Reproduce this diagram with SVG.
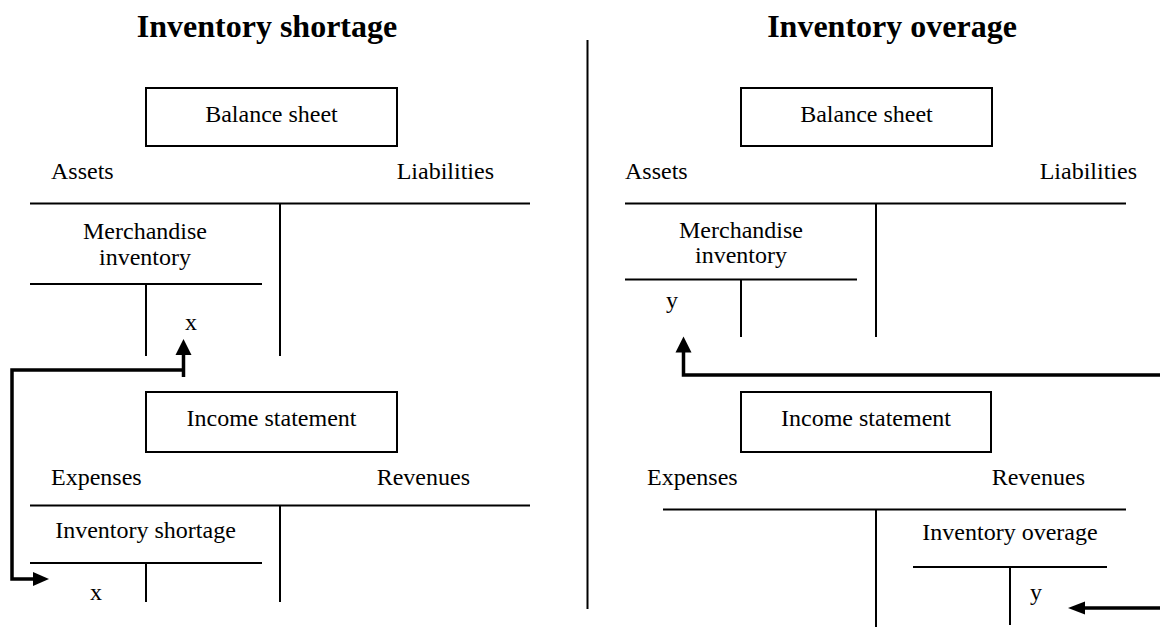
<svg xmlns="http://www.w3.org/2000/svg" width="1160" height="628" viewBox="0 0 1160 628">
  <style>
    .title { font-family: "Liberation Serif", "Times New Roman", serif; font-size: 32px; font-weight: bold; fill: #000; }
    .lbl { font-family: "Liberation Serif", "Times New Roman", serif; font-size: 24px; fill: #000; }
    .mid { text-anchor: middle; }
    .end { text-anchor: end; }
    .rule { stroke: #000; stroke-width: 2; fill: none; }
    .box { stroke: #000; stroke-width: 2; fill: #fff; }
    .flow { stroke: #000; stroke-width: 3.5; fill: none; stroke-linejoin: miter; }
    .tip { fill: #000; stroke: none; }
  </style>
  <rect width="1160" height="628" fill="#fff"/>

  <!-- panel divider -->
  <line class="rule" x1="587.5" y1="40" x2="587.5" y2="609"/>

  <!-- ===== Left panel: shortage ===== -->
  <text class="title mid" x="267" y="37">Inventory shortage</text>

  <g id="bs-left">
    <rect class="box" x="146" y="88" width="251" height="58"/>
    <text class="lbl mid" x="271.5" y="122">Balance sheet</text>
  </g>
  <g id="bs-left-accounts">
    <text class="lbl" x="51" y="179">Assets</text>
    <text class="lbl end" x="494" y="179">Liabilities</text>
    <line class="rule" x1="30" y1="203.5" x2="530" y2="203.5"/>
    <line class="rule" x1="280" y1="203.5" x2="280" y2="356"/>
  </g>
  <g id="inv-left">
    <text class="lbl mid" x="145" y="239">Merchandise</text>
    <text class="lbl mid" x="145" y="265">inventory</text>
    <line class="rule" x1="30" y1="284" x2="262" y2="284"/>
    <line class="rule" x1="146" y1="284" x2="146" y2="356"/>
    <text class="lbl mid" x="191" y="330">x</text>
  </g>

  <g id="is-left">
    <rect class="box" x="146" y="392" width="251" height="60"/>
    <text class="lbl mid" x="271.5" y="426">Income statement</text>
  </g>
  <g id="is-left-accounts">
    <text class="lbl" x="51" y="485">Expenses</text>
    <text class="lbl end" x="470" y="485">Revenues</text>
    <line class="rule" x1="30" y1="505.5" x2="530" y2="505.5"/>
    <line class="rule" x1="280" y1="505.5" x2="280" y2="602"/>
  </g>
  <g id="short-left">
    <text class="lbl mid" x="145.5" y="538">Inventory shortage</text>
    <line class="rule" x1="30" y1="563" x2="262" y2="563"/>
    <line class="rule" x1="146" y1="563" x2="146" y2="602"/>
    <text class="lbl mid" x="96" y="600">x</text>
  </g>

  <!-- ===== Right panel: overage ===== -->
  <text class="title mid" x="892" y="37">Inventory overage</text>

  <g id="bs-right">
    <rect class="box" x="741" y="88" width="251" height="58"/>
    <text class="lbl mid" x="866.5" y="122">Balance sheet</text>
  </g>
  <g id="bs-right-accounts">
    <text class="lbl" x="625" y="179">Assets</text>
    <text class="lbl end" x="1137" y="179">Liabilities</text>
    <line class="rule" x1="625" y1="203.5" x2="1126" y2="203.5"/>
    <line class="rule" x1="876" y1="203.5" x2="876" y2="337"/>
  </g>
  <g id="inv-right">
    <text class="lbl mid" x="741" y="238">Merchandise</text>
    <text class="lbl mid" x="741" y="263">inventory</text>
    <line class="rule" x1="625" y1="279.5" x2="857" y2="279.5"/>
    <line class="rule" x1="741" y1="279.5" x2="741" y2="337"/>
    <text class="lbl mid" x="672" y="308">y</text>
  </g>

  <g id="is-right">
    <rect class="box" x="741" y="392" width="250" height="60"/>
    <text class="lbl mid" x="866" y="426">Income statement</text>
  </g>
  <g id="is-right-accounts">
    <text class="lbl" x="647" y="485">Expenses</text>
    <text class="lbl end" x="1085" y="485">Revenues</text>
    <line class="rule" x1="663" y1="509.5" x2="1126" y2="509.5"/>
    <line class="rule" x1="876" y1="509.5" x2="876" y2="627"/>
  </g>
  <g id="over-right">
    <text class="lbl mid" x="1010" y="540">Inventory overage</text>
    <line class="rule" x1="913" y1="567" x2="1107" y2="567"/>
    <line class="rule" x1="1010" y1="567" x2="1010" y2="625"/>
    <text class="lbl mid" x="1036" y="600">y</text>
  </g>

  <!-- connectors -->
  <g id="connectors">
    <!-- shortage: merchandise inventory credit to inventory shortage debit -->
    <path class="flow" d="M183.5,377 V354"/>
    <polygon class="tip" points="183.5,339 191.5,355 175.5,355"/>
    <path class="flow" d="M183.5,370 H12 V579 H34"/>
    <polygon class="tip" points="49,579 33,572 33,586"/>
    <!-- overage: inventory overage credit to merchandise inventory debit -->
    <path class="flow" d="M1160,375 H683.5 V351"/>
    <polygon class="tip" points="683.5,336.5 691.5,352.5 675.5,352.5"/>
    <path class="flow" d="M1160,608 H1084"/>
    <polygon class="tip" points="1068,608 1085,601.5 1085,614.5"/>
  </g>
</svg>
